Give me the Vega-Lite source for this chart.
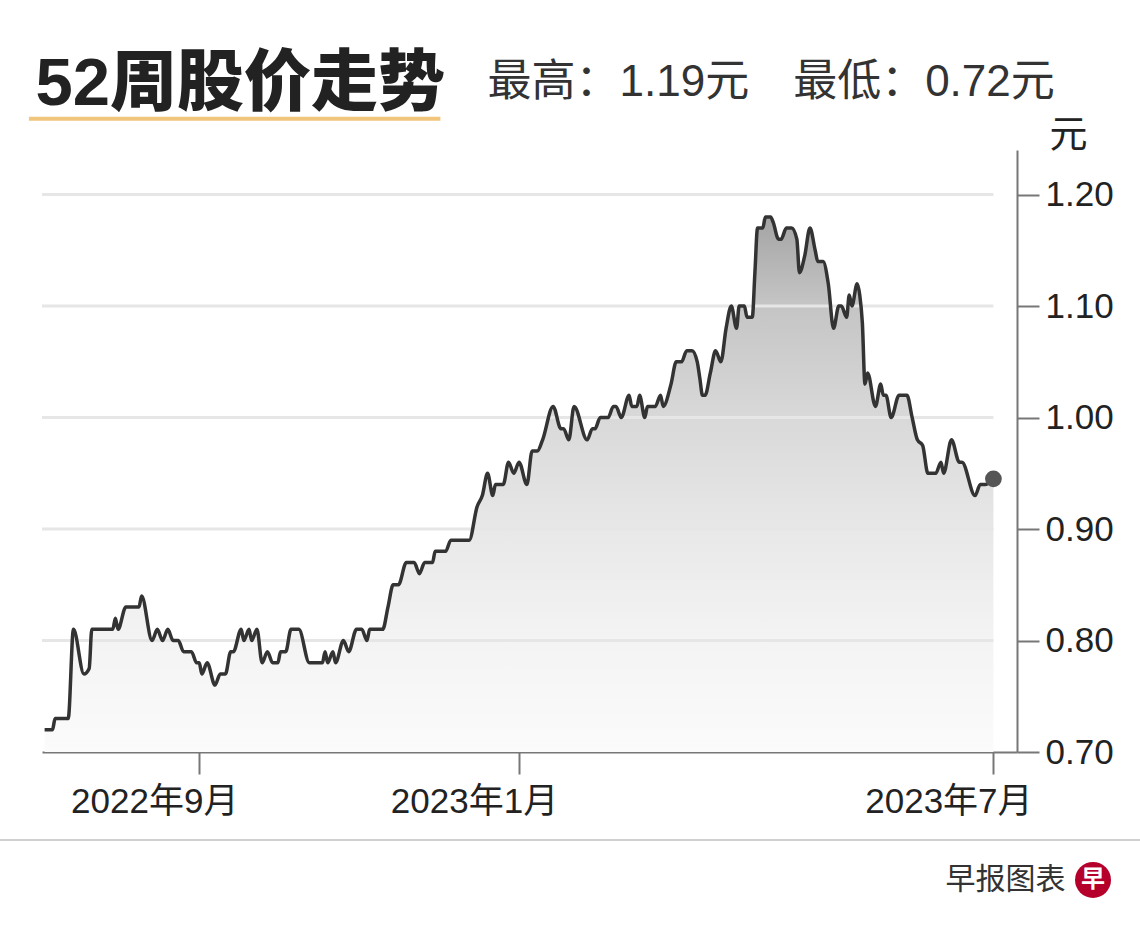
{
  "$schema": "https://vega.github.io/schema/vega-lite/v6.json",
  "description": "52周股价走势 - area line chart with right axis",
  "width": 975,
  "height": 602,
  "autosize": {"type": "none"},
  "padding": {"left": 42, "top": 150, "right": 123, "bottom": 176},
  "background": "#ffffff",
  "config": {
    "view": {"stroke": null},
    "font": "Liberation Sans, Noto Sans CJK SC"
  },
  "datasets": {
    "price": [
      {"date": "2022-07-04", "price": 0.72},
      {"date": "2022-07-07", "price": 0.72},
      {"date": "2022-07-08", "price": 0.73},
      {"date": "2022-07-13", "price": 0.73},
      {"date": "2022-07-15", "price": 0.81},
      {"date": "2022-07-19", "price": 0.77},
      {"date": "2022-07-21", "price": 0.775},
      {"date": "2022-07-22", "price": 0.81},
      {"date": "2022-07-30", "price": 0.81},
      {"date": "2022-07-31", "price": 0.82},
      {"date": "2022-08-01", "price": 0.81},
      {"date": "2022-08-04", "price": 0.83},
      {"date": "2022-08-09", "price": 0.83},
      {"date": "2022-08-10", "price": 0.84},
      {"date": "2022-08-14", "price": 0.80},
      {"date": "2022-08-16", "price": 0.81},
      {"date": "2022-08-18", "price": 0.80},
      {"date": "2022-08-20", "price": 0.81},
      {"date": "2022-08-22", "price": 0.80},
      {"date": "2022-08-24", "price": 0.80},
      {"date": "2022-08-26", "price": 0.79},
      {"date": "2022-08-29", "price": 0.79},
      {"date": "2022-08-31", "price": 0.78},
      {"date": "2022-09-01", "price": 0.78},
      {"date": "2022-09-02", "price": 0.77},
      {"date": "2022-09-04", "price": 0.78},
      {"date": "2022-09-07", "price": 0.76},
      {"date": "2022-09-09", "price": 0.77},
      {"date": "2022-09-11", "price": 0.77},
      {"date": "2022-09-13", "price": 0.79},
      {"date": "2022-09-14", "price": 0.79},
      {"date": "2022-09-17", "price": 0.81},
      {"date": "2022-09-18", "price": 0.80},
      {"date": "2022-09-20", "price": 0.81},
      {"date": "2022-09-21", "price": 0.80},
      {"date": "2022-09-23", "price": 0.81},
      {"date": "2022-09-25", "price": 0.78},
      {"date": "2022-09-27", "price": 0.79},
      {"date": "2022-09-29", "price": 0.78},
      {"date": "2022-10-01", "price": 0.78},
      {"date": "2022-10-02", "price": 0.79},
      {"date": "2022-10-04", "price": 0.79},
      {"date": "2022-10-06", "price": 0.81},
      {"date": "2022-10-09", "price": 0.81},
      {"date": "2022-10-13", "price": 0.78},
      {"date": "2022-10-18", "price": 0.78},
      {"date": "2022-10-19", "price": 0.79},
      {"date": "2022-10-20", "price": 0.78},
      {"date": "2022-10-22", "price": 0.79},
      {"date": "2022-10-23", "price": 0.78},
      {"date": "2022-10-26", "price": 0.80},
      {"date": "2022-10-28", "price": 0.79},
      {"date": "2022-10-31", "price": 0.81},
      {"date": "2022-11-02", "price": 0.81},
      {"date": "2022-11-04", "price": 0.80},
      {"date": "2022-11-05", "price": 0.81},
      {"date": "2022-11-10", "price": 0.81},
      {"date": "2022-11-12", "price": 0.83},
      {"date": "2022-11-14", "price": 0.85},
      {"date": "2022-11-16", "price": 0.85},
      {"date": "2022-11-19", "price": 0.87},
      {"date": "2022-11-22", "price": 0.87},
      {"date": "2022-11-24", "price": 0.86},
      {"date": "2022-11-26", "price": 0.87},
      {"date": "2022-11-29", "price": 0.87},
      {"date": "2022-11-30", "price": 0.88},
      {"date": "2022-12-04", "price": 0.88},
      {"date": "2022-12-06", "price": 0.89},
      {"date": "2022-12-13", "price": 0.89},
      {"date": "2022-12-16", "price": 0.92},
      {"date": "2022-12-18", "price": 0.93},
      {"date": "2022-12-20", "price": 0.95},
      {"date": "2022-12-22", "price": 0.93},
      {"date": "2022-12-23", "price": 0.94},
      {"date": "2022-12-26", "price": 0.94},
      {"date": "2022-12-28", "price": 0.96},
      {"date": "2022-12-30", "price": 0.95},
      {"date": "2023-01-01", "price": 0.96},
      {"date": "2023-01-04", "price": 0.94},
      {"date": "2023-01-06", "price": 0.97},
      {"date": "2023-01-08", "price": 0.97},
      {"date": "2023-01-10", "price": 0.98},
      {"date": "2023-01-14", "price": 1.01},
      {"date": "2023-01-17", "price": 0.99},
      {"date": "2023-01-18", "price": 0.99},
      {"date": "2023-01-20", "price": 0.98},
      {"date": "2023-01-22", "price": 1.01},
      {"date": "2023-01-27", "price": 0.98},
      {"date": "2023-01-29", "price": 0.99},
      {"date": "2023-01-30", "price": 0.99},
      {"date": "2023-02-01", "price": 1.00},
      {"date": "2023-02-04", "price": 1.00},
      {"date": "2023-02-06", "price": 1.01},
      {"date": "2023-02-07", "price": 1.01},
      {"date": "2023-02-09", "price": 1.00},
      {"date": "2023-02-12", "price": 1.02},
      {"date": "2023-02-13", "price": 1.01},
      {"date": "2023-02-15", "price": 1.01},
      {"date": "2023-02-16", "price": 1.02},
      {"date": "2023-02-18", "price": 1.00},
      {"date": "2023-02-19", "price": 1.01},
      {"date": "2023-02-22", "price": 1.01},
      {"date": "2023-02-24", "price": 1.02},
      {"date": "2023-02-25", "price": 1.01},
      {"date": "2023-02-28", "price": 1.03},
      {"date": "2023-03-02", "price": 1.05},
      {"date": "2023-03-04", "price": 1.05},
      {"date": "2023-03-06", "price": 1.06},
      {"date": "2023-03-08", "price": 1.06},
      {"date": "2023-03-10", "price": 1.05},
      {"date": "2023-03-11", "price": 1.035},
      {"date": "2023-03-12", "price": 1.02},
      {"date": "2023-03-13", "price": 1.02},
      {"date": "2023-03-15", "price": 1.04},
      {"date": "2023-03-17", "price": 1.06},
      {"date": "2023-03-19", "price": 1.05},
      {"date": "2023-03-21", "price": 1.08},
      {"date": "2023-03-23", "price": 1.10},
      {"date": "2023-03-25", "price": 1.08},
      {"date": "2023-03-26", "price": 1.10},
      {"date": "2023-03-28", "price": 1.10},
      {"date": "2023-03-29", "price": 1.09},
      {"date": "2023-03-31", "price": 1.09},
      {"date": "2023-04-01", "price": 1.13},
      {"date": "2023-04-02", "price": 1.17},
      {"date": "2023-04-04", "price": 1.17},
      {"date": "2023-04-05", "price": 1.18},
      {"date": "2023-04-07", "price": 1.18},
      {"date": "2023-04-08", "price": 1.175},
      {"date": "2023-04-10", "price": 1.16},
      {"date": "2023-04-11", "price": 1.16},
      {"date": "2023-04-13", "price": 1.17},
      {"date": "2023-04-15", "price": 1.17},
      {"date": "2023-04-17", "price": 1.16},
      {"date": "2023-04-18", "price": 1.13},
      {"date": "2023-04-20", "price": 1.145},
      {"date": "2023-04-22", "price": 1.17},
      {"date": "2023-04-24", "price": 1.15},
      {"date": "2023-04-25", "price": 1.14},
      {"date": "2023-04-27", "price": 1.14},
      {"date": "2023-04-29", "price": 1.12},
      {"date": "2023-05-01", "price": 1.08},
      {"date": "2023-05-03", "price": 1.10},
      {"date": "2023-05-04", "price": 1.10},
      {"date": "2023-05-06", "price": 1.09},
      {"date": "2023-05-07", "price": 1.11},
      {"date": "2023-05-08", "price": 1.10},
      {"date": "2023-05-10", "price": 1.12},
      {"date": "2023-05-11", "price": 1.11},
      {"date": "2023-05-12", "price": 1.085},
      {"date": "2023-05-13", "price": 1.03},
      {"date": "2023-05-14", "price": 1.04},
      {"date": "2023-05-17", "price": 1.01},
      {"date": "2023-05-19", "price": 1.03},
      {"date": "2023-05-20", "price": 1.02},
      {"date": "2023-05-21", "price": 1.02},
      {"date": "2023-05-23", "price": 1.00},
      {"date": "2023-05-26", "price": 1.02},
      {"date": "2023-05-29", "price": 1.02},
      {"date": "2023-05-31", "price": 1.00},
      {"date": "2023-06-02", "price": 0.98},
      {"date": "2023-06-04", "price": 0.975},
      {"date": "2023-06-06", "price": 0.95},
      {"date": "2023-06-09", "price": 0.95},
      {"date": "2023-06-11", "price": 0.96},
      {"date": "2023-06-12", "price": 0.95},
      {"date": "2023-06-15", "price": 0.98},
      {"date": "2023-06-18", "price": 0.96},
      {"date": "2023-06-19", "price": 0.96},
      {"date": "2023-06-24", "price": 0.93},
      {"date": "2023-06-26", "price": 0.94},
      {"date": "2023-06-28", "price": 0.94},
      {"date": "2023-07-01", "price": 0.945}
    ],
    "grid": [
      {"v": 0.8},
      {"v": 0.9},
      {"v": 1.0},
      {"v": 1.1},
      {"v": 1.2}
    ]
  },
  "layer": [
    {
      "data": {"name": "price"},
      "mark": {
        "type": "area",
        "line": false,
        "interpolate": "monotone",
        "color": {
          "gradient": "linear",
          "x1": 0, "y1": 0, "x2": 0, "y2": 1,
          "stops": [
            {"offset": 0, "color": "#a4a4a4"},
            {"offset": 0.16, "color": "#c4c4c4"},
            {"offset": 0.38, "color": "#d9d9d9"},
            {"offset": 0.6, "color": "#e9e9e9"},
            {"offset": 0.8, "color": "#f4f4f4"},
            {"offset": 1, "color": "#fbfbfb"}
          ]
        }
      },
      "encoding": {
        "x": {
          "field": "date",
          "type": "temporal",
          "scale": {
            "type": "utc",
            "domain": [
              {"year": 2022, "month": 7, "date": 3, "utc": true},
              {"year": 2023, "month": 7, "date": 10, "utc": true}
            ]
          },
          "axis": {
            "orient": "bottom",
            "values": [
              {"year": 2022, "month": 9, "date": 1, "utc": true},
              {"year": 2023, "month": 1, "date": 1, "utc": true},
              {"year": 2023, "month": 7, "date": 1, "utc": true}
            ],
            "labelExpr": "utcFormat(datum.value, '%Y年%-m月')",
            "labelFontSize": 35,
            "labelColor": "#222222",
            "labelOffset": -45,
            "labelPadding": 10,
            "labelFlush": false,
            "labelOverlap": false,
            "tickSize": 22,
            "tickColor": "#777777",
            "tickWidth": 2,
            "domainColor": "#777777",
            "domainWidth": 2,
            "grid": false,
            "title": "早报图表",
            "titleX": 1023,
            "titleY": 127,
            "titleAlign": "right",
            "titleBaseline": "middle",
            "titleAngle": 0,
            "titleFontSize": 30,
            "titleFontWeight": "normal",
            "titleColor": "#333333"
          }
        },
        "y": {
          "field": "price",
          "type": "quantitative",
          "scale": {"domain": [0.7, 1.24], "nice": false, "zero": false},
          "axis": {
            "orient": "right",
            "values": [0.7, 0.8, 0.9, 1.0, 1.1, 1.2],
            "format": ".2f",
            "labelFontSize": 35,
            "labelColor": "#222222",
            "labelPadding": 6,
            "tickSize": 22,
            "tickColor": "#777777",
            "tickWidth": 2,
            "domainColor": "#777777",
            "domainWidth": 2,
            "grid": false,
            "title": "元",
            "titleX": 51,
            "titleY": -15,
            "titleAngle": 0,
            "titleAlign": "center",
            "titleBaseline": "middle",
            "titleFontSize": 38,
            "titleFontWeight": "normal",
            "titleColor": "#222222"
          }
        },
        "y2": {"datum": 0.7}
      }
    },
    {
      "data": {"name": "grid"},
      "mark": {"type": "rule", "color": "#e6e6e6", "strokeWidth": 3},
      "encoding": {
        "x": {
          "datum": {"year": 2022, "month": 7, "date": 3, "utc": true},
          "type": "temporal",
          "axis": {
            "orient": "top",
            "domain": false,
            "ticks": false,
            "labels": false,
            "grid": false,
            "title": "最高：1.19元　最低：0.72元",
            "titleX": 445,
            "titleY": -55,
            "titleAngle": 0,
            "titleAlign": "left",
            "titleBaseline": "alphabetic",
            "titleFontSize": 44,
            "titleFontWeight": "normal",
            "titleColor": "#333333"
          }
        },
        "x2": {"datum": {"year": 2023, "month": 7, "date": 1, "utc": true}},
        "y": {
          "field": "v",
          "type": "quantitative",
          "axis": {
            "orient": "left",
            "domain": false,
            "ticks": false,
            "labels": false,
            "grid": false,
            "title": "52周股价走势",
            "titleX": -7,
            "titleY": -46,
            "titleAngle": 0,
            "titleAlign": "left",
            "titleBaseline": "alphabetic",
            "titleFontSize": 67,
            "titleFontWeight": 900,
            "titleColor": "#222222"
          }
        }
      }
    },
    {
      "data": {"name": "price"},
      "mark": {"type": "line", "color": "#333333", "strokeWidth": 3.5, "strokeJoin": "round", "interpolate": "monotone"},
      "encoding": {
        "x": {"field": "date", "type": "temporal", "axis": null},
        "y": {"field": "price", "type": "quantitative", "axis": null}
      }
    },
    {
      "data": {"name": "price"},
      "transform": [
        {"window": [{"op": "row_number", "as": "rn"}], "sort": [{"field": "date", "order": "descending"}]},
        {"filter": "datum.rn === 1"}
      ],
      "mark": {"type": "point", "filled": true, "color": "#555555", "size": 280, "opacity": 1},
      "encoding": {
        "x": {"field": "date", "type": "temporal", "axis": null},
        "y": {"field": "price", "type": "quantitative", "axis": null}
      }
    },
    {
      "data": {"values": [{}]},
      "mark": {"type": "rule", "color": "#f2c57c", "strokeWidth": 4},
      "encoding": {
        "x": {"datum": {"year": 2022, "month": 6, "date": 28, "utc": true}, "type": "temporal", "axis": null},
        "x2": {"datum": {"year": 2022, "month": 12, "date": 2, "utc": true}},
        "y": {"datum": 1.268, "type": "quantitative", "axis": null}
      }
    },
    {
      "data": {"values": [{}]},
      "mark": {"type": "rule", "color": "#d0d0d0", "strokeWidth": 2},
      "encoding": {
        "x": {"datum": {"year": 2022, "month": 6, "date": 17, "utc": true}, "type": "temporal", "axis": null},
        "x2": {"datum": {"year": 2023, "month": 8, "date": 26, "utc": true}},
        "y": {"datum": 0.621, "type": "quantitative", "axis": null}
      }
    },
    {
      "data": {"values": [{}]},
      "mark": {"type": "point", "filled": true, "color": "#b5002c", "size": 1296, "opacity": 1},
      "encoding": {
        "x": {"datum": {"year": 2023, "month": 8, "date": 8, "utc": true}, "type": "temporal", "axis": null},
        "y": {"datum": 0.5852, "type": "quantitative", "axis": null}
      }
    },
    {
      "data": {"values": [{}]},
      "mark": {"type": "text", "text": "早", "color": "#ffffff", "fontSize": 24, "fontWeight": "bold", "align": "center", "baseline": "middle", "font": "Noto Sans CJK SC"},
      "encoding": {
        "x": {"datum": {"year": 2023, "month": 8, "date": 8, "utc": true}, "type": "temporal", "axis": null},
        "y": {"datum": 0.5852, "type": "quantitative", "axis": null}
      }
    }
  ],
  "resolve": {"axis": {"x": "independent", "y": "independent"}}
}
